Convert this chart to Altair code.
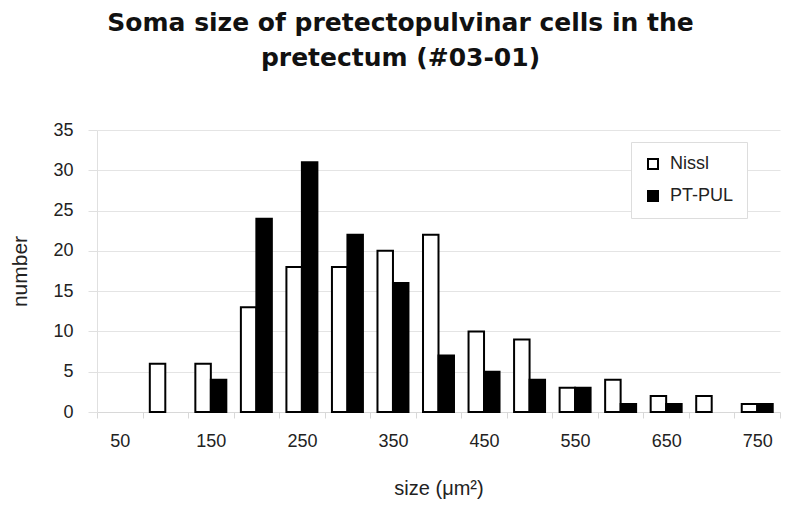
import altair as alt
import pandas as pd

sizes = ["50", "100", "150", "200", "250", "300", "350", "400", "450", "500",
         "550", "600", "650", "700", "750"]
nissl = [0, 6, 6, 13, 18, 18, 20, 22, 10, 9, 3, 4, 2, 2, 1]
ptpul = [0, 0, 4, 24, 31, 22, 16, 7, 5, 4, 3, 1, 1, 0, 1]
series = ["Nissl", "PT-PUL"]

rows = []
for s, n, p in zip(sizes, nissl, ptpul):
    rows.append({"size": s, "series": "Nissl", "count": n})
    rows.append({"size": s, "series": "PT-PUL", "count": p})
df = pd.DataFrame(rows)
df = df[df["count"] > 0]

FONT = "Liberation Sans"

chart = alt.Chart(df).mark_bar(stroke="black", strokeWidth=2).encode(
    x=alt.X("size:N", sort=sizes,
            scale=alt.Scale(domain=sizes, paddingInner=0, paddingOuter=0),
            axis=alt.Axis(title="size (μm²)", labelAngle=0,
                          labelExpr="parseInt(datum.value) % 100 == 50 ? datum.value : ''",
                          tickBand="extent", ticks=True, tickSize=6,
                          tickColor="#d8d8d8", domainColor="#d8d8d8",
                          labelPadding=14, labelFontSize=18, labelColor="#222",
                          labelFont=FONT, titleFont=FONT, titleFontSize=20,
                          titleFontWeight="normal", titleColor="#222",
                          titlePadding=28, grid=False)),
    xOffset=alt.XOffset("series:N", sort=series,
                        scale=alt.Scale(domain=series, paddingOuter=0.47, paddingInner=0)),
    y=alt.Y("count:Q", scale=alt.Scale(domain=[0, 35]),
            axis=alt.Axis(title="number", values=[0, 5, 10, 15, 20, 25, 30, 35],
                          tickSize=9, tickColor="#e0e0e0", domainColor="#e0e0e0",
                          gridColor="#e4e4e4", labelPadding=15, labelFontSize=18,
                          labelColor="#222", labelFont=FONT, titleFont=FONT,
                          titleFontSize=21, titleFontWeight="normal",
                          titleColor="#222", titlePadding=22)),
    color=alt.Color("series:N", sort=series,
                    scale=alt.Scale(domain=series, range=["white", "black"]),
                    legend=alt.Legend(title=None, orient="none", legendX=534, legendY=12,
                                      symbolType="square", symbolSize=100,
                                      symbolStrokeColor="black", symbolStrokeWidth=2,
                                      labelFontSize=18, labelFont=FONT, labelColor="#222",
                                      rowPadding=14, padding=13, labelOffset=8,
                                      strokeColor="#dddddd", fillColor="white")),
).properties(
    width=683, height=282,
    title=alt.TitleParams(
        text=["Soma size of pretectopulvinar cells in the", "pretectum (#03-01)"],
        font="DejaVu Sans", fontSize=25, fontWeight="bold", color="#111",
        anchor="middle", dx=-38, offset=50, lineHeight=35),
    padding={"left": 89, "top": 122, "right": 4, "bottom": 100},
    autosize=alt.AutoSizeParams(type="none"),
).configure_view(stroke=None)

chart.save("out.html", embed_options={"renderer": "svg", "actions": False})
